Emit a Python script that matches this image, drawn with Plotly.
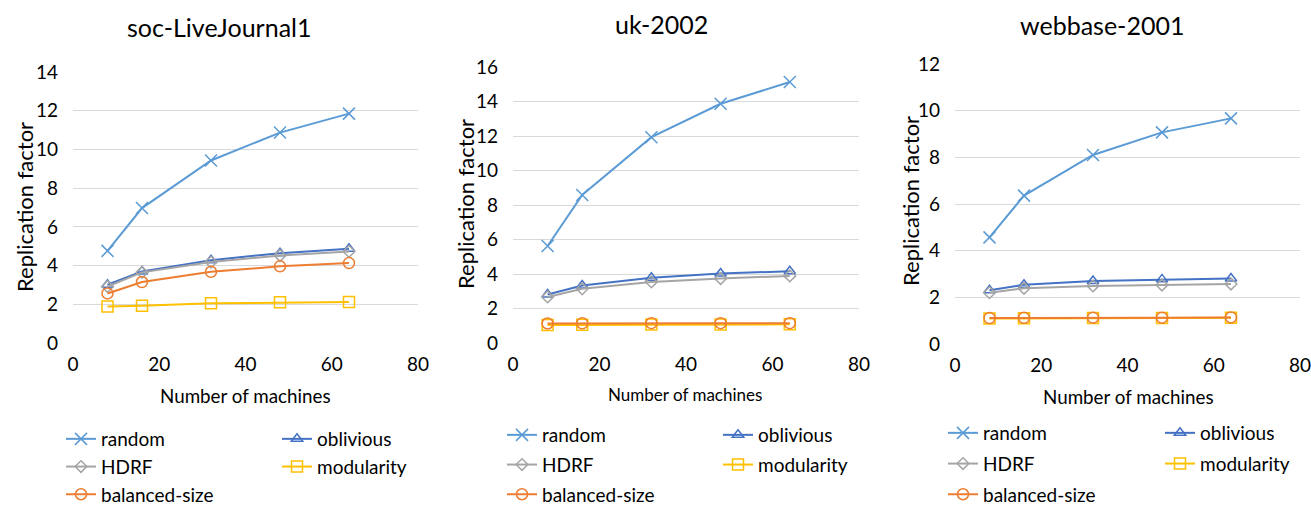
import plotly.graph_objects as go

# Number of machines used in every experiment
machines = [8, 16, 32, 48, 64]

# Replication factor per partitioner, one list per graph
lj_random = [4.76, 6.97, 9.43, 10.87, 11.85]
lj_oblivious = [3.01, 3.70, 4.28, 4.64, 4.87]
lj_hdrf = [2.92, 3.65, 4.18, 4.52, 4.73]
lj_modularity = [1.89, 1.93, 2.05, 2.10, 2.12]
lj_balanced = [2.56, 3.15, 3.68, 3.96, 4.13]

uk_random = [5.62, 8.58, 11.93, 13.87, 15.13]
uk_oblivious = [2.81, 3.33, 3.78, 4.03, 4.16]
uk_hdrf = [2.67, 3.14, 3.54, 3.74, 3.89]
uk_modularity = [1.05, 1.06, 1.07, 1.07, 1.08]
uk_balanced = [1.13, 1.14, 1.15, 1.15, 1.15]

wb_random = [4.57, 6.36, 8.10, 9.07, 9.67]
wb_oblivious = [2.30, 2.54, 2.70, 2.77, 2.81]
wb_hdrf = [2.20, 2.39, 2.49, 2.53, 2.57]
wb_modularity = [1.09, 1.10, 1.11, 1.11, 1.12]
wb_balanced = [1.11, 1.12, 1.13, 1.13, 1.14]

graph_names = ["soc-LiveJournal1", "uk-2002", "webbase-2001"]
y_max = [14, 16, 12]

W, H = 1311, 505
FONT = "Lato"

series_style = {
    "random": dict(color="#5B9BD5", symbol="x-thin-open", size=12),
    "oblivious": dict(color="#4472C4", symbol="triangle-up-open", size=10),
    "HDRF": dict(color="#A5A5A5", symbol="diamond-open", size=9),
    "modularity": dict(color="#FFC000", symbol="square-open", size=11),
    "balanced-size": dict(color="#ED7D31", symbol="circle-open", size=11),
}
# legend column for each series (first / second)
column = {"random": 0, "HDRF": 0, "balanced-size": 0, "oblivious": 1, "modularity": 1}
draw_order = ["random", "oblivious", "HDRF", "modularity", "balanced-size"]

panels = [
    {"random": lj_random, "oblivious": lj_oblivious, "HDRF": lj_hdrf,
     "modularity": lj_modularity, "balanced-size": lj_balanced},
    {"random": uk_random, "oblivious": uk_oblivious, "HDRF": uk_hdrf,
     "modularity": uk_modularity, "balanced-size": uk_balanced},
    {"random": wb_random, "oblivious": wb_oblivious, "HDRF": wb_hdrf,
     "modularity": wb_modularity, "balanced-size": wb_balanced},
]

# plot-area boxes in pixels: (left, right, top, bottom)
boxes = [(73, 418, 72, 343), (513, 859, 67, 343), (955, 1300, 64, 344)]
title_pos = [(219, 27), (661, 24), (1102, 25)]
ytitle_pos = [(25, 207), (465, 204), (910, 201)]
xtitle_pos = [(245, 395, 18.8), (685, 394, 17), (1128, 396, 18.8)]
legend_left = [(61, 277), (502, 718), (943, 1160)]
legend_top = [420, 416, 414]
legend_gap = [0, 2, 3]

fig = go.Figure()
layout = dict(
    width=W, height=H,
    margin=dict(l=0, r=0, t=0, b=0, autoexpand=False),
    paper_bgcolor="white", plot_bgcolor="white",
    font=dict(family=FONT, color="#000000"),
    showlegend=True,
    annotations=[],
)

for i, data in enumerate(panels):
    xa = "x" if i == 0 else f"x{i+1}"
    ya = "y" if i == 0 else f"y{i+1}"
    for name in draw_order:
        st = series_style[name]
        leg_idx = 2 * i + column[name] + 1
        leg = "legend" if leg_idx == 1 else f"legend{leg_idx}"
        fig.add_trace(go.Scatter(
            x=machines, y=data[name], name=name, mode="lines+markers",
            xaxis=xa, yaxis=ya, legend=leg, legendgroup=f"{i}-{name}",
            line=dict(color=st["color"], width=2),
            marker=dict(symbol=st["symbol"], size=st["size"],
                        color=st["color"], line=dict(color=st["color"], width=1.5)),
        ))

    l, r, t, b = boxes[i]
    xkey = "xaxis" if i == 0 else f"xaxis{i+1}"
    ykey = "yaxis" if i == 0 else f"yaxis{i+1}"
    layout[xkey] = dict(
        domain=[l / W, r / W], anchor=ya, range=[0, 80], dtick=20,
        showgrid=False, zeroline=False, showline=False, ticks="",
        ticklabelstandoff=8, ticklabeloverflow="allow",
        tickfont=dict(size=19, color="#000000"),
    )
    layout[ykey] = dict(
        domain=[1 - b / H, 1 - t / H], anchor=xa, range=[0, y_max[i]], dtick=2,
        showgrid=True, gridcolor="#D9D9D9", gridwidth=1, zeroline=False,
        showline=False, ticks="", ticklabelstandoff=14,
        tickfont=dict(size=19, color="#000000"),
    )

    tx, ty = title_pos[i]
    layout["annotations"].append(dict(
        text=graph_names[i], x=tx / W, y=1 - ty / H, xref="paper", yref="paper",
        xanchor="center", yanchor="middle", showarrow=False,
        font=dict(size=25, family=FONT, color="#000000")))
    yx, yy = ytitle_pos[i]
    layout["annotations"].append(dict(
        text="Replication factor", x=yx / W, y=1 - yy / H, xref="paper", yref="paper",
        xanchor="center", yanchor="middle", showarrow=False, textangle=-90,
        font=dict(size=22, family=FONT, color="#000000")))
    xx, xy, xs = xtitle_pos[i]
    layout["annotations"].append(dict(
        text="Number of machines", x=xx / W, y=1 - xy / H, xref="paper", yref="paper",
        xanchor="center", yanchor="middle", showarrow=False,
        font=dict(size=xs, family=FONT, color="#000000")))

    for c in range(2):
        leg_idx = 2 * i + c + 1
        key = "legend" if leg_idx == 1 else f"legend{leg_idx}"
        layout[key] = dict(
            x=legend_left[i][c] / W, y=1 - legend_top[i] / H,
            xanchor="left", yanchor="top", orientation="v",
            bgcolor="rgba(0,0,0,0)", borderwidth=0,
            font=dict(size=19, family=FONT, color="#000000"),
            tracegroupgap=legend_gap[i], itemwidth=30,
        )

fig.update_layout(**layout)
fig.write_html("out.html")
